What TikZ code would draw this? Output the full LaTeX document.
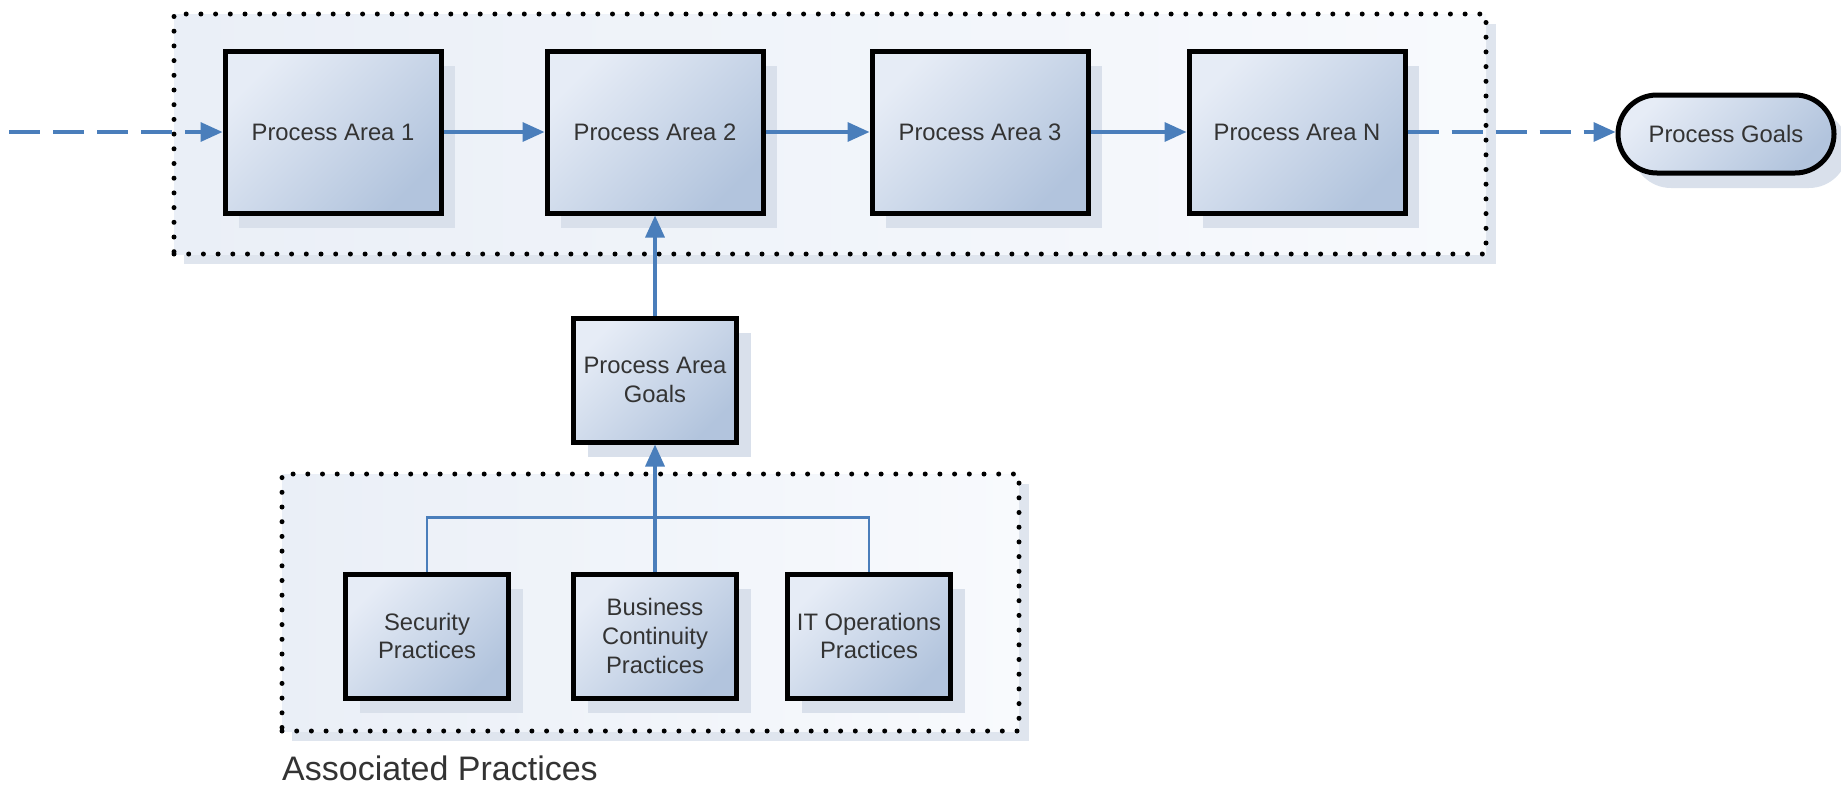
\documentclass[tikz,border=0pt]{standalone}
\usepackage{fontspec}
\setmainfont{Liberation Sans}
\usetikzlibrary{arrows.meta,shadows}
\definecolor{conncol}{HTML}{4A7EBB}
\definecolor{boxlight}{HTML}{E6ECF6}
\definecolor{boxdark}{HTML}{B2C4DD}
\definecolor{shadowcol}{HTML}{D9E0EB}
\definecolor{contlight}{HTML}{EAEFF7}
\definecolor{contright}{HTML}{F8FAFD}
\definecolor{contshadow}{HTML}{DFE5EE}
\definecolor{txtcol}{HTML}{333333}
\tikzset{
  container/.style={draw=black, line width=5pt, dash pattern=on 0pt off 14.7pt, line cap=round,
    left color=contlight, right color=contright,
    drop shadow={shadow xshift=10pt, shadow yshift=-10pt, fill=contshadow, opacity=1},
    minimum width=#1, inner sep=0pt},
  pbox/.style={draw=black, line width=5pt, top color=boxlight, bottom color=boxdark, shading angle=45,
    drop shadow={shadow xshift=14pt, shadow yshift=-15pt, fill=shadowcol, opacity=1},
    text=txtcol, align=center, inner sep=0pt,
    font=\fontsize{23.8}{28.6}\selectfont},
  bigbox/.style={pbox, minimum width=216pt, minimum height=162pt},
  smallbox/.style={pbox, minimum width=163pt, minimum height=124pt},
  conn/.style={draw=conncol, line width=3.4pt, -{Triangle[length=22pt,width=19pt]}},
  dconn/.style={conn, dash pattern=on 31pt off 13pt},
  plainconn/.style={draw=conncol, line width=2.6pt},
}
\begin{document}
\begin{tikzpicture}[x=1pt,y=-1pt]
\useasboundingbox (0,0) rectangle (1841,790);
% containers
\node[container=1312pt, minimum height=240pt] (topc) at (830,134) {};
\node[container=737pt, minimum height=257pt] (botc) at (650.5,602.5) {};
% top row
\node[bigbox] (pa1) at (333,132) {Process Area 1};
\node[bigbox] (pa2) at (655,132) {Process Area 2};
\node[bigbox] (pa3) at (980,132) {Process Area 3};
\node[bigbox] (pan) at (1297,132) {Process Area N};
\node[pbox, minimum width=216pt, minimum height=78pt, rounded corners=39pt] (goals) at (1726,134) {Process Goals};
% goals of process area
\node[smallbox] (pag) at (655,380) {Process Area\\Goals};
% practices
\node[smallbox] (sec) at (427,636) {Security\\Practices};
\node[smallbox] (bc) at (655,636) {Business\\Continuity\\Practices};
\node[smallbox] (it) at (869,636) {IT Operations\\Practices};
\node[anchor=base west, inner sep=0pt, text=txtcol, font=\fontsize{34}{40}\selectfont] (aplabel) at (282,780) {Associated Practices};
% connectors
\coordinate (start) at (9,132);
\draw[dconn] (start) -- (pa1.west);
\draw[conn] (pa1.east) -- (pa2.west);
\draw[conn] (pa2.east) -- (pa3.west);
\draw[conn] (pa3.east) -- (pan.west);
\draw[dconn] (pan.east) -- (goals.west |- pan.east);
\draw[conn] (pag.north) -- (pa2.south);
\draw[conn] (bc.north) -- (pag.south);
\draw[plainconn] (sec.north) -- ++(0,-54) -| (it.north);
\end{tikzpicture}
\end{document}
